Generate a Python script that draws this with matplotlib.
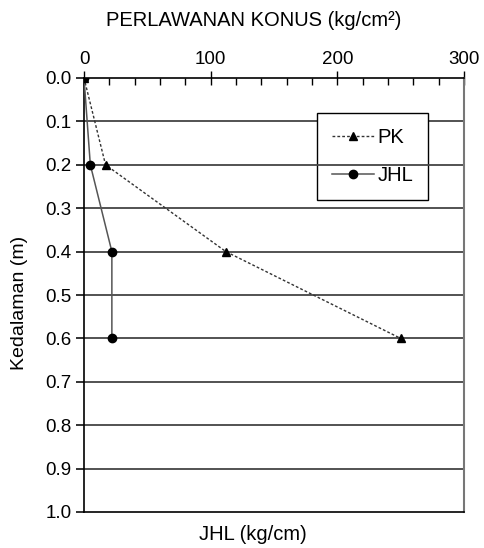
import matplotlib.pyplot as plt
from matplotlib.ticker import MultipleLocator

plt.rcParams['font.family'] = ['Liberation Sans', 'DejaVu Sans']

# data
depth = [0.0, 0.2, 0.4, 0.6]
pk = [0, 17, 112, 250]
jhl = [0, 5, 22, 22]
y_ticks = [0.0, 0.1, 0.2, 0.3, 0.4, 0.5, 0.6, 0.7, 0.8, 0.9, 1.0]
x_ticks = [0, 100, 200, 300]

fig = plt.figure(figsize=(4.84, 5.48), dpi=100)
ax = fig.add_axes([84 / 484, 1 - 512 / 548, 380 / 484, 434 / 548])

ax.set_xlim(0, 300)
ax.set_ylim(1.0, 0.0)

# garis grid horizontal
for y in y_ticks[1:-1]:
    z = 2.2 if y == 0.2 else 1
    ax.axhline(y, color='#444444', lw=1.3, zorder=z)

pk_line, = ax.plot(pk, depth, color='#333333', ls=(0, (2, 1.5)), lw=1,
                   marker='^', ms=5.5, mfc='black', mec='black', label='PK', zorder=3)
jhl_line, = ax.plot(jhl, depth, color='#555555', lw=1.1,
                    marker='o', ms=6, mfc='black', mec='black', label='JHL', zorder=3)

ax.xaxis.tick_top()
ax.set_xticks(x_ticks)
ax.xaxis.set_minor_locator(MultipleLocator(20))
ax.tick_params(axis='x', which='major', direction='inout', length=10, width=1, labelsize=13.5, pad=2)
ax.tick_params(axis='x', which='minor', direction='in', length=5, width=1)
ax.set_yticks(y_ticks)
ax.set_yticklabels([f'{v:.1f}' for v in y_ticks])
ax.tick_params(axis='y', direction='out', length=6, width=1.3, labelsize=13.5, pad=3, colors='#222222')
ax.tick_params(axis='y', labelcolor='black')

for s in ['left', 'top', 'bottom']:
    ax.spines[s].set_color('black')
    ax.spines[s].set_linewidth(1.2)
ax.spines['right'].set_color('#777777')
ax.spines['right'].set_linewidth(1.5)

leg = ax.legend(handles=[pk_line, jhl_line], loc='upper left',
                bbox_to_anchor=((317 - 84) / 380, 1 - (114 - 79) / 433),
                frameon=True, fancybox=False, edgecolor='black', framealpha=1,
                fontsize=14.5, handlelength=2.1, labelspacing=0.95,
                borderpad=0.75, handletextpad=0.15, borderaxespad=0)
leg.get_frame().set_linewidth(1)
leg.set_zorder(1.5)

fig.text(254 / 484, 1 - 20 / 548, 'PERLAWANAN KONUS (kg/cm²)', ha='center', va='center', fontsize=14.5)
fig.text(253 / 484, 1 - 535 / 548, 'JHL (kg/cm)', ha='center', va='center', fontsize=14.5)
fig.text(20 / 484, 1 - 303 / 548, 'Kedalaman (m)', ha='center', va='center', rotation=90, fontsize=14)

fig.savefig('out.png', dpi=100)
